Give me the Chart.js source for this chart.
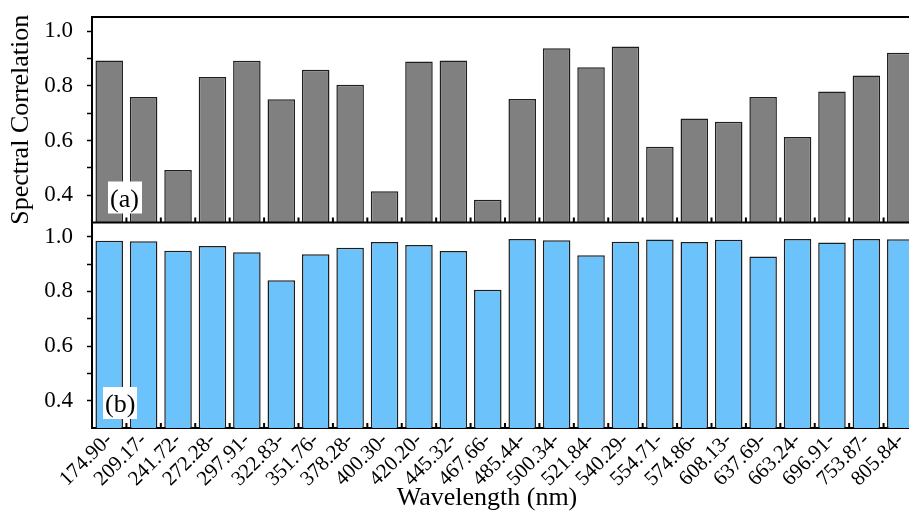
<!DOCTYPE html>
<html>
<head>
<meta charset="utf-8">
<script src="https://cdn.jsdelivr.net/npm/chart.js@4.4.0/dist/chart.umd.min.js"></script>
<style>
  html, body { margin: 0; padding: 0; background: #fff; overflow: hidden; }
  #wrap { position: relative; width: 930px; height: 511px; }
</style>
</head>
<body>
<div id="wrap"><canvas id="specChart"></canvas></div>
<script>
// wavelength band labels (start of each band)
const wavelengths = [
  "174.90-", "209.17-", "241.72-", "272.28-", "297.91-", "322.83-",
  "351.76-", "378.28-", "400.30-", "420.20-", "445.32-", "467.66-",
  "485.44-", "500.34-", "521.84-", "540.29-", "554.71-", "574.86-",
  "608.13-", "637.69-", "663.24-", "696.91-", "753.87-", "805.84-"
];

// panel (a)
const corrA = [0.893, 0.759, 0.492, 0.832, 0.892, 0.751, 0.859, 0.804, 0.414, 0.889, 0.893, 0.383,
               0.752, 0.938, 0.868, 0.944, 0.577, 0.681, 0.669, 0.759, 0.613, 0.779, 0.838, 0.921];
// panel (b)
const corrB = [0.985, 0.983, 0.949, 0.966, 0.943, 0.841, 0.936, 0.960, 0.981, 0.970, 0.948, 0.806,
               0.992, 0.987, 0.932, 0.982, 0.990, 0.981, 0.989, 0.928, 0.992, 0.979, 0.992, 0.991];

const yTicks = [0.4, 0.5, 0.6, 0.7, 0.8, 0.9, 1.0];
const yMajor = [0.4, 0.6, 0.8, 1.0];
const yMin = 0.3;
const yMax = 1.052;

const serif = "'Liberation Serif', 'Times New Roman', serif";
Chart.defaults.font.family = serif;
Chart.defaults.color = '#000';

function panelAxis(title) {
  return {
    type: 'linear',
    position: 'left',
    stack: 'panels',
    stackWeight: 1,
    min: yMin,
    max: yMax,
    afterBuildTicks: (axis) => { axis.ticks = yTicks.map(v => ({ value: v })); },
    afterFit: (axis) => {
      axis.width = 92;
      axis.paddingTop = 0;
      axis.paddingBottom = 0;
    },
    ticks: {
      autoSkip: false,
      padding: 14,
      font: { size: 23 },
      callback: (v) => yMajor.some(m => Math.abs(m - v) < 1e-6) ? v.toFixed(1) : ''
    },
    grid: { drawOnChartArea: false, drawTicks: true, tickLength: 5, tickWidth: 1.5, color: '#000' },
    border: { display: true, color: '#000', width: 2 },
    title: title ? { display: true, text: title, font: { size: 26 }, padding: { top: 6, bottom: 0 } } : { display: false }
  };
}

// frame lines, inward x ticks, panel tags, x title
const decorations = {
  id: 'decorations',
  afterDatasetsDraw(chart) {
    const { ctx, chartArea, scales } = chart;
    const x = scales.x, yA = scales.yA, yB = scales.yB;
    ctx.save();
    ctx.strokeStyle = '#000';
    ctx.lineWidth = 2;
    ctx.beginPath();
    ctx.moveTo(chartArea.left, chartArea.top);
    ctx.lineTo(chartArea.right, chartArea.top);
    ctx.moveTo(chartArea.left, yA.bottom);
    ctx.lineTo(chartArea.right, yA.bottom);
    ctx.stroke();

    // small inward ticks between categories
    ctx.lineWidth = 2;
    ctx.beginPath();
    for (let i = 1; i < wavelengths.length; i++) {
      const px = (x.getPixelForValue(i - 1) + x.getPixelForValue(i)) / 2;
      [yA.bottom, yB.bottom].forEach(b => {
        ctx.moveTo(px, b);
        ctx.lineTo(px, b - 5);
      });
    }
    ctx.stroke();

    // panel tags
    ctx.font = '26px ' + serif;
    ctx.textBaseline = 'alphabetic';
    ctx.textAlign = 'left';
    const tags = [['(a)', chartArea.left + 16, yA.bottom - 41], ['(b)', chartArea.left + 11, yB.bottom - 41]];
    tags.forEach(([t, tx, ty]) => {
      ctx.fillStyle = '#fff';
      ctx.fillRect(tx, ty, 34, 32);
      ctx.fillStyle = '#000';
      ctx.fillText(t, tx + 2, ty + 25);
    });

    // x axis title
    ctx.font = '26px ' + serif;
    ctx.textAlign = 'center';
    ctx.fillText('Wavelength (nm)', chartArea.left + 395, 505);
    ctx.restore();
  }
};

new Chart(document.getElementById('specChart'), {
  type: 'bar',
  data: {
    labels: wavelengths,
    datasets: [
      {
        data: corrA,
        yAxisID: 'yA',
        base: yMin,
        grouped: false,
        backgroundColor: '#808080',
        borderColor: '#1e1e1e',
        borderWidth: 1.5,
        barPercentage: 0.8,
        categoryPercentage: 1.0
      },
      {
        data: corrB,
        yAxisID: 'yB',
        base: yMin,
        grouped: false,
        backgroundColor: '#6cc2fb',
        borderColor: '#1e1e1e',
        borderWidth: 1.5,
        barPercentage: 0.8,
        categoryPercentage: 1.0
      }
    ]
  },
  options: {
    responsive: true,
    maintainAspectRatio: false,
    animation: false,
    layout: { padding: { top: 17, right: 12, left: 0, bottom: 0 } },
    plugins: {
      legend: { display: false },
      tooltip: { enabled: false }
    },
    scales: {
      // stacked left axes: the later one is placed on top
      yB: panelAxis(null),
      yA: panelAxis('Spectral Correlation'),
      x: {
        type: 'category',
        offset: true,
        afterFit: (axis) => { axis.height = 83; },
        grid: { display: false, drawTicks: false },
        border: { display: true, color: '#000', width: 2 },
        ticks: {
          autoSkip: false,
          minRotation: 45,
          maxRotation: 45,
          padding: 0,
          font: { size: 21 }
        }
      }
    }
  },
  plugins: [decorations]
});
</script>
</body>
</html>
